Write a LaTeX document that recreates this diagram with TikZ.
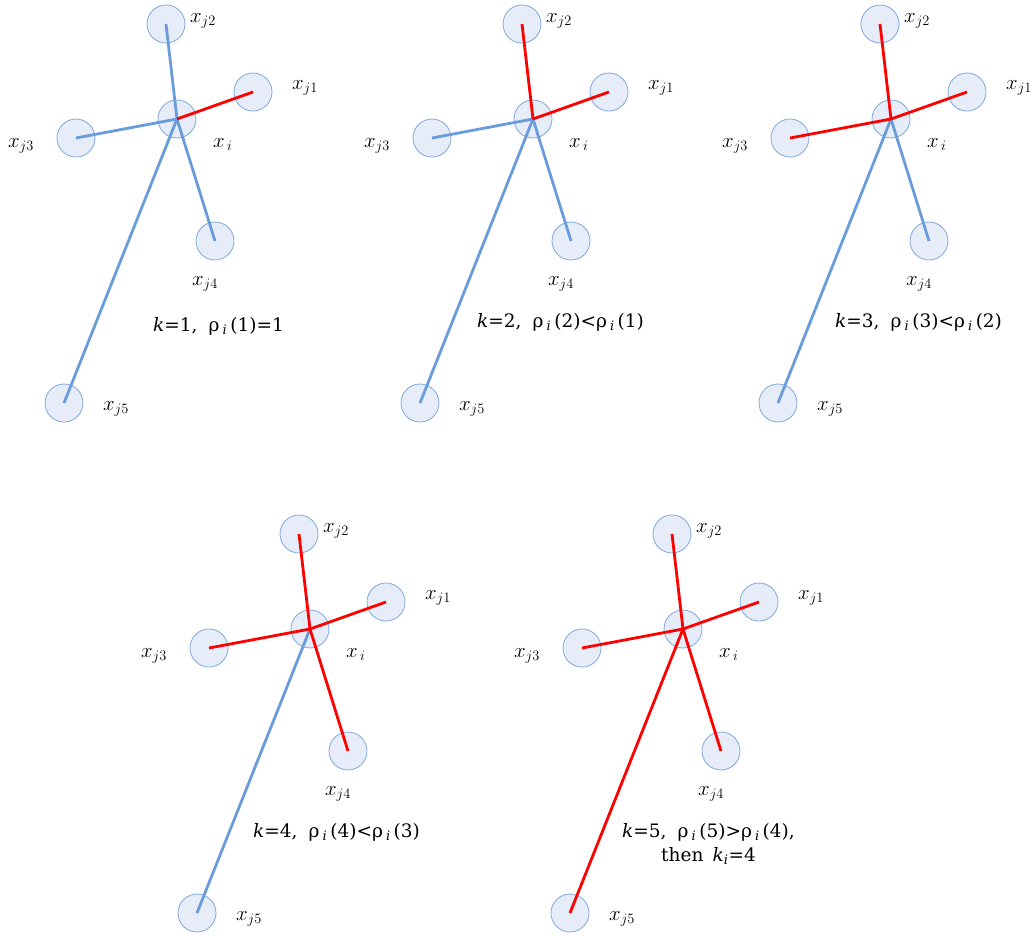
\documentclass[tikz,border=0pt]{standalone}
\usepackage{fontspec}
\setmainfont{DejaVu Serif}
\newfontfamily\capfont{DejaVu Serif}
\usetikzlibrary{calc}

\definecolor{linkblue}{HTML}{6A9BDB}
\definecolor{ptfill}{HTML}{E6EDF8}
\definecolor{ptborder}{HTML}{7FA7E0}

\tikzset{
  pnode/.style={circle, draw=ptborder, fill=ptfill, line width=0.8pt, minimum size=38pt, inner sep=0pt},
  edge/.style={line width=2.8pt, draw=#1},
  lab/.style={anchor=base west, inner sep=0pt, font=\fontsize{19.5}{24}\selectfont},
  captxt/.style={anchor=west, inner sep=0pt, font=\capfont\fontsize{18.5}{24}\selectfont, align=center}
}

\begin{document}
\begin{tikzpicture}[x=1pt, y=-1pt]
\useasboundingbox (0,0) rectangle (1032,935);

% one star per panel, the first \p edges are red
\foreach \p/\ox/\oy in {1/0/0, 2/356/0, 3/714/0, 4/133/510, 5/506/510}{
  \begin{scope}[shift={(\ox,\oy)}]
    \node[pnode] (i\p) at (177,119) {};
    \node[pnode] (j\p-1) at (253,92) {};
    \node[pnode] (j\p-2) at (166,24) {};
    \node[pnode] (j\p-3) at (76,138) {};
    \node[pnode] (j\p-4) at (215,241) {};
    \node[pnode] (j\p-5) at (64,403) {};

    \foreach \n in {5,4,3,2,1}{
      \ifnum\n>\p \def\ec{linkblue}\else\def\ec{red}\fi
      \draw[edge=\ec] (i\p.center) -- (j\p-\n.center);
    }

    \node[lab] (li\p) at (213,147) {$x_{\,i}$};
    \node[lab] (l\p-1) at (292,89) {$x_{j1}$};
    \node[lab] (l\p-2) at (190,22) {$x_{j2}$};
    \node[lab] (l\p-3) at (8,147) {$x_{j3}$};
    \node[lab] (l\p-4) at (192,285) {$x_{j4}$};
    \node[lab] (l\p-5) at (103,410) {$x_{j5}$};
  \end{scope}
}

% captions
\node[captxt] (c1) at (153,326) {\textit{k}=1,\hspace{0.6em}ρ\,\textsubscript{\textit{i}}\,(1)=1};
\node[captxt] (c2) at (477,322) {\textit{k}=2,\hspace{0.6em}ρ\,\textsubscript{\textit{i}}\,(2)<ρ\,\textsubscript{\textit{i}}\,(1)};
\node[captxt] (c3) at (835,322) {\textit{k}=3,\hspace{0.6em}ρ\,\textsubscript{\textit{i}}\,(3)<ρ\,\textsubscript{\textit{i}}\,(2)};
\node[captxt] (c4) at (253,832) {\textit{k}=4,\hspace{0.6em}ρ\,\textsubscript{\textit{i}}\,(4)<ρ\,\textsubscript{\textit{i}}\,(3)};
\node[captxt] (c5) at (622,844) {\textit{k}=5,\hspace{0.6em}ρ\,\textsubscript{\textit{i}}\,(5)>ρ\,\textsubscript{\textit{i}}\,(4),\\
  then\hspace{0.5em}\textit{k}\textsubscript{\textit{i}}=4};
\end{tikzpicture}
\end{document}
